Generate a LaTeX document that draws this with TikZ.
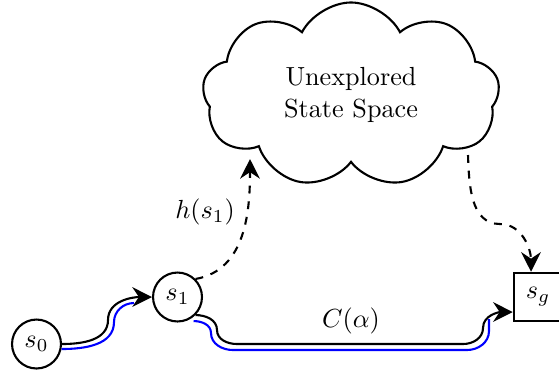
\documentclass[tikz,border=0pt]{standalone}
\usetikzlibrary{shapes.symbols,arrows.meta,calc}
\begin{document}
\begin{tikzpicture}[x=0.382pt,y=0.382pt,
  state/.style={circle,draw,line width=0.8pt,minimum size=18.7pt,inner sep=0pt},
  goal/.style={rectangle,draw,line width=0.8pt,minimum size=18.5pt,inner sep=0pt},
  tip/.style={-{Stealth[length=7.5pt,width=7.5pt,inset=2.5pt]}},
  conn/.style={line width=0.8pt},
  offs/.style={draw=blue,line width=0.8pt},
  heur/.style={dashed,line width=0.8pt,tip},
  region/.style={cloud,draw,cloud puffs=9,cloud puff arc=125,cloud ignores aspect,
    shape border rotate=15,
    line width=0.8pt,align=center,minimum width=113.5pt,minimum height=70.7pt}
]
\clip (0,0) rectangle (559,-373);
\node[state] (s0) at (36.5,-344) {$s_0$};
\node[state] (s1) at (177.5,-297) {$s_1$};
\node[goal] (sg) at (538,-297) {$s_g$};
\node[region] (cl) at (351,-95) {Unexplored\\State Space};
\coordinate (c1) at (250,-159);
\coordinate (c2) at (468,-155);
% s0 -> s1
\draw[conn,tip] (s0.east) to[out=0,in=-90] (108,-320) to[out=90,in=180] (s1.west);
\draw[offs] ($(s0.east)+(-0.5,-5)$) to[out=0,in=-90] (114,-322) to[out=90,in=180] (134,-303);
% s1 -> sg
\draw[conn,tip] (s1.south east) to[out=0,in=90] (217,-330) to[out=-90,in=180] (237,-344)
  -- (463,-344) to[out=0,in=-90] (483,-328) to[out=90,in=180] ($(sg.west)+(0,-15)$);
\draw[offs] ($(s1.south east)+(-2,-6)$) to[out=0,in=90] (211,-333) to[out=-90,in=180] (233,-350)
  -- (467,-350) to[out=0,in=-90] (489,-331) -- (489,-319);
\node (lc) at (351,-321) {$C(\alpha)$};
% heuristic
\draw[heur] (s1.north east) to[out=10,in=-90] (c1);
\node (lh) at (205,-212) {$h(s_1)$};
\draw[heur] (c2) to[out=-88,in=180] (500,-224) to[out=0,in=90] ($(sg.north)+(-7,0)$);
\end{tikzpicture}
\end{document}
